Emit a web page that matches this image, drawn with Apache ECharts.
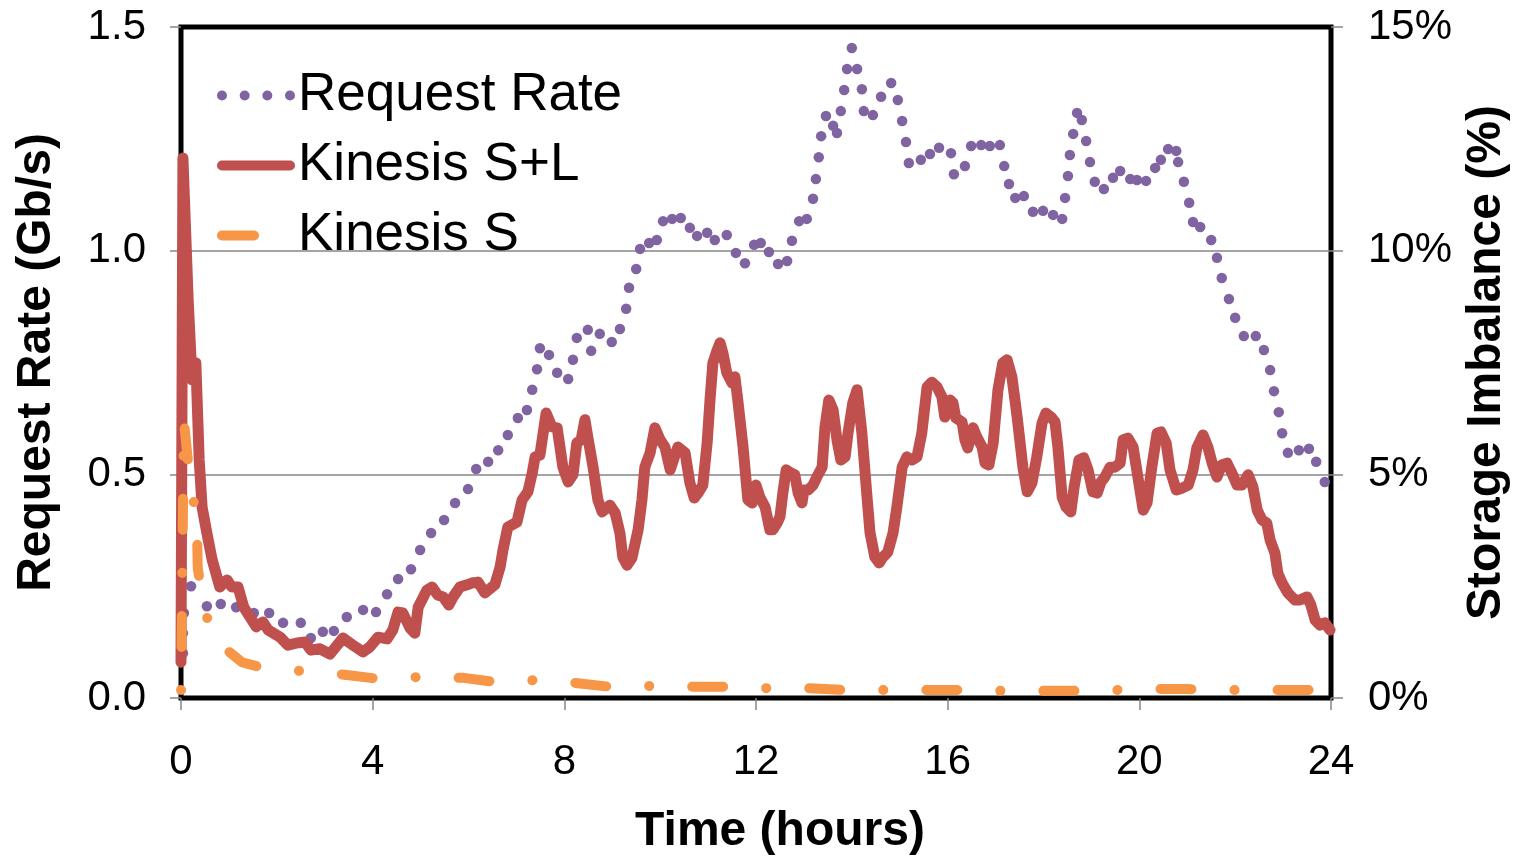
<!DOCTYPE html>
<html>
<head>
<meta charset="utf-8">
<title>Request rate and storage imbalance</title>
<script src="https://cdn.jsdelivr.net/npm/echarts@6/dist/echarts.min.js"></script>
<style>
html, body { margin: 0; padding: 0; background: #fff; overflow: hidden; }
#chart { width: 1519px; height: 857px; }
</style>
</head>
<body>
<div id="chart"></div>
<script>
// Request rate (Gb/s), one entry per visible dot: [hour, value]
var requestRate = [
  [0.04,0.10],[0.04,0.145],[0.06,0.19],[0.21,0.25],[0.54,0.205],[0.83,0.21],[1.15,0.203],[1.52,0.19],
  [1.84,0.19],[2.13,0.168],[2.50,0.168],[2.71,0.134],[2.96,0.148],[3.19,0.15],[3.46,0.181],[3.80,0.197],
  [4.07,0.192],[4.30,0.232],[4.53,0.266],[4.80,0.288],[4.99,0.331],[5.22,0.369],[5.49,0.398],[5.72,0.436],
  [5.99,0.467],[6.16,0.512],[6.41,0.528],[6.62,0.554],[6.82,0.588],[7.03,0.626],[7.22,0.644],[7.33,0.689],
  [7.43,0.735],[7.49,0.782],[7.68,0.767],[7.85,0.727],[8.08,0.713],[8.18,0.756],[8.26,0.805],[8.49,0.823],
  [8.56,0.776],[8.74,0.814],[8.99,0.796],[9.16,0.825],[9.29,0.87],[9.35,0.917],[9.50,0.959],[9.58,1.004],
  [9.77,1.017],[9.93,1.024],[10.06,1.066],[10.25,1.071],[10.43,1.073],[10.62,1.051],[10.77,1.033],[10.98,1.04],
  [11.14,1.024],[11.39,1.035],[11.58,0.995],[11.77,0.972],[11.96,1.013],[12.10,1.017],[12.27,0.997],[12.46,0.970],
  [12.65,0.977],[12.75,1.022],[12.90,1.066],[13.06,1.071],[13.19,1.116],[13.25,1.160],[13.31,1.209],[13.36,1.256],
  [13.46,1.301],[13.61,1.279],[13.69,1.263],[13.77,1.312],[13.84,1.359],[13.90,1.406],[14.00,1.453],[14.11,1.406],
  [14.21,1.361],[14.25,1.312],[14.44,1.303],[14.61,1.344],[14.82,1.375],[14.96,1.337],[15.05,1.290],[15.13,1.243],
  [15.19,1.196],[15.44,1.203],[15.63,1.216],[15.82,1.230],[16.07,1.218],[16.13,1.171],[16.36,1.189],[16.49,1.234],
  [16.70,1.236],[16.88,1.234],[17.09,1.236],[17.18,1.189],[17.28,1.149],[17.41,1.118],[17.59,1.122],[17.78,1.087],
  [17.99,1.089],[18.20,1.080],[18.39,1.071],[18.45,1.118],[18.51,1.167],[18.55,1.214],[18.62,1.261],[18.70,1.308],
  [18.80,1.292],[18.89,1.245],[18.97,1.198],[19.07,1.154],[19.26,1.138],[19.45,1.163],[19.60,1.178],[19.81,1.160],
  [19.95,1.158],[20.14,1.156],[20.33,1.185],[20.45,1.203],[20.60,1.227],[20.77,1.223],[20.81,1.198],[20.93,1.154],
  [21.04,1.107],[21.12,1.064],[21.27,1.053],[21.50,1.024],[21.62,0.984],[21.72,0.939],[21.87,0.892],[22.00,0.850],
  [22.18,0.809],[22.43,0.809],[22.60,0.778],[22.73,0.733],[22.81,0.686],[22.91,0.639],[22.98,0.592],[23.10,0.548],
  [23.33,0.554],[23.54,0.557],[23.69,0.528],[23.87,0.483]
];

// Storage imbalance (%), Kinesis S+L
var kinesisSL = [
  [0,0.8],[0.04,12.07],[0.15,8.9],[0.23,7.11],[0.31,7.49],[0.38,5.32],[0.44,4.27],[0.54,3.69],[0.65,3.09],
  [0.75,2.71],[0.81,2.48],[0.96,2.64],[1.06,2.48],[1.19,2.48],[1.31,2.03],[1.44,1.81],[1.57,1.59],[1.71,1.70],
  [1.82,1.52],[2.07,1.36],[2.23,1.18],[2.42,1.23],[2.59,1.25],[2.71,1.07],[2.90,1.10],[3.11,0.98],[3.38,1.34],
  [3.59,1.18],[3.80,1.03],[3.94,1.14],[4.11,1.36],[4.30,1.32],[4.42,1.52],[4.53,1.92],[4.63,1.90],[4.78,1.56],
  [4.88,1.45],[4.95,2.03],[5.13,2.41],[5.24,2.48],[5.36,2.30],[5.47,2.26],[5.59,2.08],[5.68,2.26],[5.82,2.48],
  [5.97,2.53],[6.07,2.57],[6.20,2.59],[6.34,2.35],[6.55,2.53],[6.66,2.93],[6.72,3.31],[6.82,3.82],[7.01,3.93],
  [7.12,4.43],[7.24,4.61],[7.33,5.03],[7.39,5.39],[7.49,5.43],[7.62,6.37],[7.74,6.06],[7.85,6.04],[7.97,5.16],
  [8.08,4.83],[8.18,4.99],[8.26,5.70],[8.35,5.77],[8.43,6.22],[8.49,5.83],[8.60,5.16],[8.70,4.43],[8.79,4.16],
  [8.95,4.31],[9.06,4.14],[9.16,3.69],[9.22,3.15],[9.31,2.97],[9.41,3.13],[9.54,3.76],[9.62,4.43],[9.68,5.16],
  [9.79,5.48],[9.89,6.04],[10.00,5.77],[10.10,5.61],[10.21,5.10],[10.31,5.43],[10.37,5.61],[10.52,5.48],[10.62,4.81],
  [10.71,4.47],[10.79,4.58],[10.89,4.76],[10.98,5.70],[11.04,6.66],[11.10,7.49],[11.19,7.78],[11.25,7.94],[11.31,7.71],
  [11.39,7.27],[11.50,7.04],[11.56,7.18],[11.62,6.66],[11.73,5.61],[11.83,4.43],[11.92,4.36],[12.00,4.76],[12.08,4.49],
  [12.19,4.27],[12.29,3.76],[12.35,3.76],[12.44,3.91],[12.50,4.05],[12.56,4.58],[12.63,5.10],[12.73,5.03],[12.81,4.99],
  [12.88,4.58],[12.96,4.36],[13.00,4.65],[13.09,4.65],[13.19,4.76],[13.27,4.94],[13.38,5.16],[13.44,6.06],[13.52,6.66],
  [13.61,6.44],[13.69,5.77],[13.77,5.32],[13.86,5.39],[13.92,5.92],[14.02,6.60],[14.11,6.89],[14.21,5.92],[14.30,4.72],
  [14.38,3.69],[14.48,3.15],[14.57,3.02],[14.65,3.15],[14.75,3.26],[14.86,3.69],[14.94,4.27],[15.05,5.16],[15.15,5.39],
  [15.26,5.32],[15.36,5.39],[15.46,5.92],[15.57,6.95],[15.67,7.06],[15.78,6.95],[15.88,6.73],[15.94,6.28],[16.05,6.66],
  [16.11,6.60],[16.17,6.26],[16.30,6.17],[16.36,5.77],[16.42,5.59],[16.53,6.04],[16.61,5.83],[16.72,5.61],[16.78,5.25],
  [16.86,5.21],[16.95,5.70],[17.05,6.89],[17.15,7.49],[17.24,7.56],[17.34,7.18],[17.45,6.28],[17.57,5.16],[17.66,4.61],
  [17.76,4.81],[17.86,5.39],[17.97,6.15],[18.05,6.37],[18.16,6.28],[18.24,6.17],[18.30,5.61],[18.39,4.49],[18.47,4.27],
  [18.57,4.16],[18.64,4.72],[18.74,5.32],[18.84,5.37],[18.93,5.10],[19.03,4.61],[19.12,4.58],[19.20,4.83],[19.28,4.94],
  [19.39,5.16],[19.49,5.16],[19.60,5.25],[19.66,5.77],[19.76,5.81],[19.87,5.61],[19.97,4.94],[20.08,4.20],[20.16,4.36],
  [20.26,5.16],[20.37,5.92],[20.45,5.95],[20.56,5.70],[20.64,5.10],[20.77,4.65],[20.89,4.69],[21.02,4.76],[21.12,5.10],
  [21.20,5.59],[21.33,5.88],[21.43,5.61],[21.52,5.25],[21.62,4.94],[21.72,5.21],[21.83,5.25],[21.93,5.03],[22.04,4.76],
  [22.14,4.76],[22.27,4.99],[22.37,4.72],[22.46,4.20],[22.56,3.98],[22.66,3.91],[22.73,3.53],[22.83,3.24],[22.89,2.79],
  [22.98,2.57],[23.10,2.35],[23.25,2.19],[23.35,2.19],[23.50,2.26],[23.58,2.08],[23.67,1.74],[23.77,1.63],[23.87,1.68],
  [23.98,1.52]
];

// Storage imbalance (%), Kinesis S
var kinesisS = [
  [0,0],[0.06,6.2],[0.15,5.25],[0.25,4.5],[0.33,3.9],[0.35,2.9],[0.44,2.26],[0.65,1.34],[1.27,0.80],[1.86,0.63],
  [2.70,0.60],[3.5,0.51],[4.1,0.43],[5.0,0.47],[5.9,0.45],[6.55,0.36],[7.4,0.40],[8.2,0.34],[8.96,0.25],[9.8,0.27],
  [10.6,0.25],[11.4,0.25],[12.2,0.22],[13.1,0.22],[13.8,0.18],[14.6,0.18],[15.5,0.18],[16.2,0.18],[17.05,0.16],
  [18.0,0.16],[18.6,0.16],[19.5,0.18],[20.4,0.20],[21.0,0.20],[21.9,0.18],[22.8,0.18],[23.5,0.18],[24,0.18]
];

var hourTicks = { min: 0, max: 24, step: 4 };
var rateTicks = { min: 0, max: 1.5, step: 0.5 };
var imbalanceTicks = { min: 0, max: 15, step: 5 };

var font = "'Liberation Sans', Arial, Helvetica, sans-serif";
var tickGray = '#868686';
var titleStyle = { fontSize: 48, fontWeight: 'bold', fontFamily: font, color: '#000' };

// legend samples: four dots, a solid bar, a short dash
var dotsIcon = 'path://M0,5a5,5 0 1,0 10,0a5,5 0 1,0 -10,0Z M22.67,5a5,5 0 1,0 10,0a5,5 0 1,0 -10,0Z M45.33,5a5,5 0 1,0 10,0a5,5 0 1,0 -10,0Z M68,5a5,5 0 1,0 10,0a5,5 0 1,0 -10,0Z';
var barIcon = 'path://M5,0H73A5,5 0 0,1 73,10H5A5,5 0 0,1 5,0Z';
var dashIcon = 'path://M5,0H37A5,5 0 0,1 37,10H5A5,5 0 0,1 5,0Z M77.95,5h0.05v0.05h-0.05Z';

var chart = echarts.init(document.getElementById('chart'), null, { renderer: 'canvas' });

chart.setOption({
  animation: false,
  backgroundColor: '#fff',
  grid: {
    left: 181, right: 188, top: 27, bottom: 159,
    containLabel: false, outerBoundsMode: 'none',
    show: true, borderColor: '#000', borderWidth: 5, backgroundColor: 'transparent'
  },
  legend: {
    orient: 'vertical',
    left: 212, top: 64,
    itemWidth: 78, itemHeight: 10, itemGap: 17,
    selectedMode: false,
    itemStyle: { borderWidth: 0 },
    textStyle: { fontSize: 53, fontFamily: font, color: '#000', padding: [0, 0, 0, -2] },
    data: [
      { name: 'Request Rate', icon: dotsIcon },
      { name: 'Kinesis S+L', icon: barIcon },
      { name: 'Kinesis S', icon: dashIcon }
    ]
  },
  xAxis: {
    type: 'value',
    min: hourTicks.min, max: hourTicks.max, interval: hourTicks.step,
    name: 'Time (hours)', nameLocation: 'middle', nameGap: 110,
    // the title sits a little right of the plot centre
    nameTextStyle: Object.assign({ padding: [0, 0, 0, 48] }, titleStyle),
    axisLine: { show: false },
    axisTick: { show: true, length: 12, lineStyle: { color: tickGray, width: 1.5 } },
    axisLabel: { fontSize: 42, fontFamily: font, color: '#000', margin: 43 },
    splitLine: { show: false }
  },
  yAxis: [
    {
      type: 'value',
      min: rateTicks.min, max: rateTicks.max, interval: rateTicks.step,
      name: 'Request Rate (Gb/s)', nameLocation: 'middle', nameGap: 120, nameRotate: 90,
      nameTextStyle: titleStyle,
      axisLine: { show: false },
      axisTick: { show: true, length: 11, lineStyle: { color: tickGray, width: 1.5 } },
      axisLabel: {
        fontSize: 42, fontFamily: font, color: '#000', margin: 35,
        formatter: function (v) { return v.toFixed(1); }
      },
      splitLine: { show: true, showMinLine: false, showMaxLine: false, lineStyle: { color: tickGray, width: 1.5 } }
    },
    {
      type: 'value',
      position: 'right',
      min: imbalanceTicks.min, max: imbalanceTicks.max, interval: imbalanceTicks.step,
      name: 'Storage Imbalance (%)', nameLocation: 'middle', nameGap: 130, nameRotate: 90,
      nameTextStyle: titleStyle,
      axisLine: { show: false },
      axisTick: { show: true, length: 12, lineStyle: { color: tickGray, width: 1.5 } },
      axisLabel: { fontSize: 42, fontFamily: font, color: '#000', margin: 37, formatter: '{value}%' },
      splitLine: { show: false }
    }
  ],
  series: [
    {
      name: 'Request Rate',
      type: 'line',
      yAxisIndex: 0,
      data: requestRate,
      symbol: 'circle', symbolSize: 10.5,
      showSymbol: true, showAllSymbol: true,
      lineStyle: { opacity: 0, width: 0 },
      itemStyle: { color: '#8064A2', borderWidth: 0 },
      silent: true,
      z: 2
    },
    {
      name: 'Kinesis S+L',
      type: 'line',
      yAxisIndex: 1,
      data: kinesisSL,
      symbol: 'none',
      lineStyle: { color: '#C0504D', width: 11, cap: 'round', join: 'round' },
      itemStyle: { color: '#C0504D' },
      silent: true,
      z: 3
    },
    {
      name: 'Kinesis S',
      type: 'line',
      yAxisIndex: 1,
      data: kinesisS,
      symbol: 'none',
      lineStyle: { color: '#F79646', width: 10, type: [31, 43, 0.1, 43], dashOffset: 66, cap: 'round', join: 'round' },
      itemStyle: { color: '#F79646' },
      silent: true,
      z: 4
    }
  ]
});
</script>
</body>
</html>
